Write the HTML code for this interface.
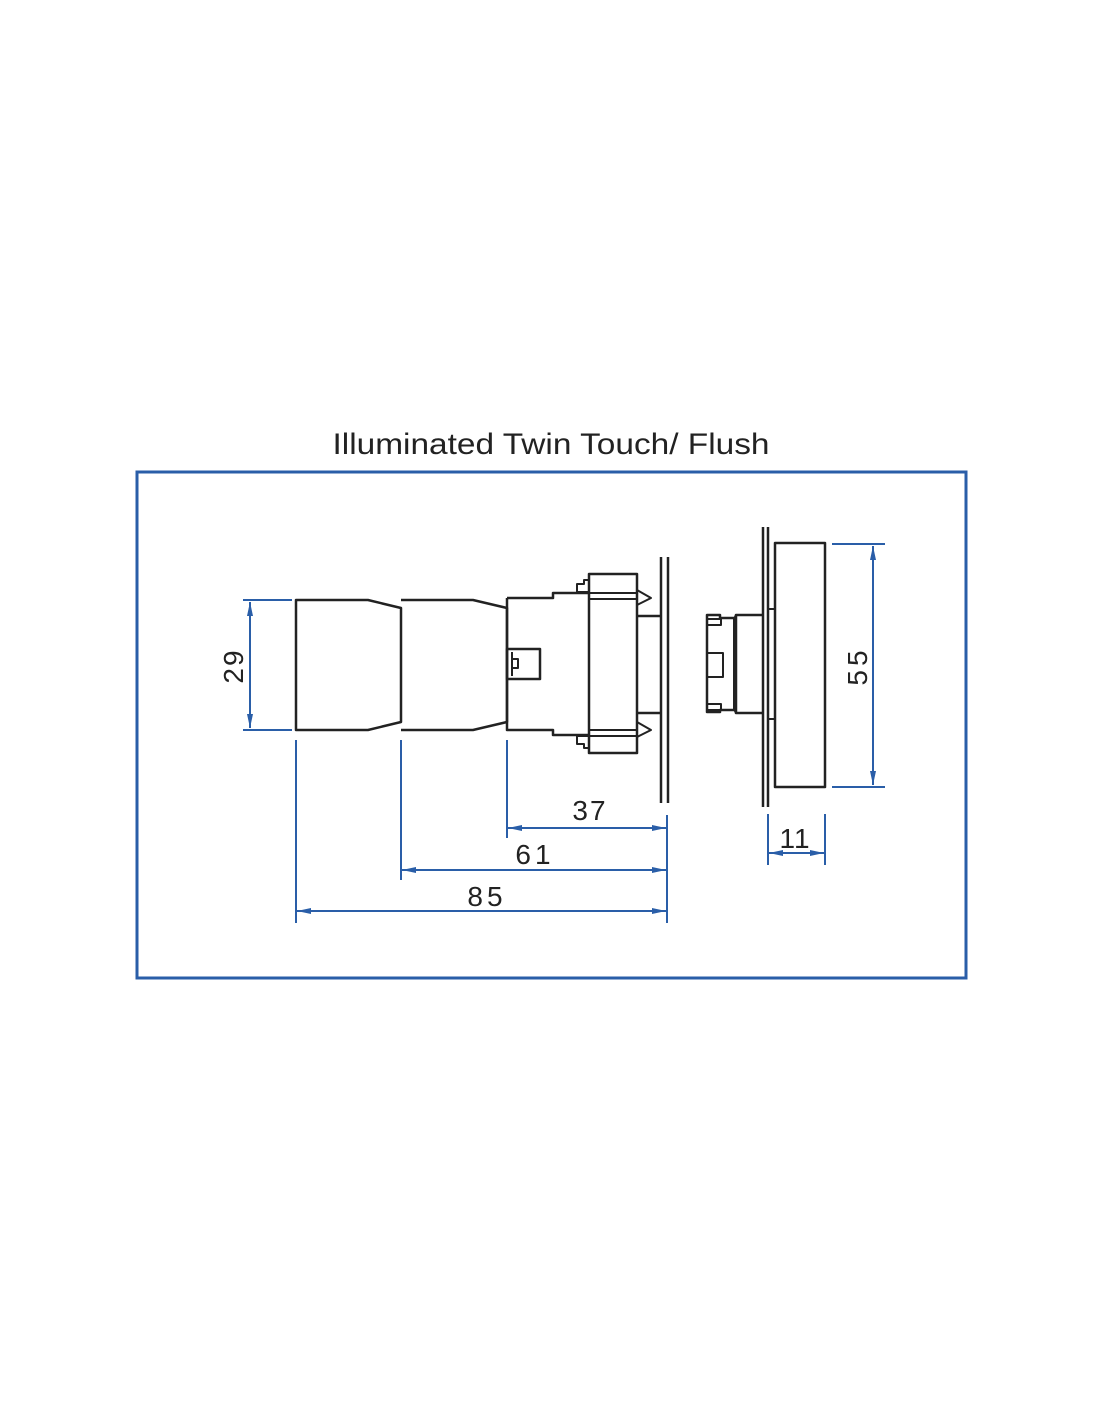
<!DOCTYPE html>
<html><head><meta charset="utf-8"><style>
html,body{margin:0;padding:0;background:#fff;}
svg{display:block;}
text{font-family:"Liberation Sans",sans-serif;}
</style></head><body>
<svg width="1100" height="1422" viewBox="0 0 1100 1422" xmlns="http://www.w3.org/2000/svg">
<defs>
<marker id="a" viewBox="0 0 14 6" refX="14" refY="3" markerWidth="14" markerHeight="6" markerUnits="userSpaceOnUse" orient="auto-start-reverse"><path d="M0,0 L14,3 L0,6 Z" fill="#2a5ea8"/></marker>
</defs>
<text x="551" y="454" font-size="30" text-anchor="middle" fill="#222" textLength="437" lengthAdjust="spacingAndGlyphs">Illuminated Twin Touch/ Flush</text>
<rect x="137" y="472" width="829" height="506" fill="none" stroke="#2a5ea8" stroke-width="3"/>

<g fill="none" stroke="#222" stroke-width="2.5" stroke-linejoin="round">
<!-- body 1 -->
<path d="M296,600 H368 L401,608 V722 L368,730 H296 Z"/>
<!-- body 2 -->
<path d="M401,600 H473 L507,608 V722 L473,730 H401"/>
<!-- body 3 -->
<path d="M507,598 H553 V593 H589 M507,598 V730 H553 V735 H589"/>
<rect x="507" y="649" width="33" height="30"/>
<path d="M512,652 V676 M512,659 H518 V668 H512" stroke-width="2"/>
<!-- box -->
<rect x="589" y="574" width="48" height="179"/>
<path d="M589,593 H637 M589,599 H637 M589,730 H637 M589,736 H637" stroke-width="2"/>
<!-- hooks -->
<path d="M589,592 H577 V584 H584 V580 H589" stroke-width="2"/>
<path d="M589,736 H577 V744 H584 V748 H589" stroke-width="2"/>
<!-- triangles -->
<path d="M637,590 L651,598 L637,605" stroke-width="2"/>
<path d="M637,722 L651,730 L637,737" stroke-width="2"/>
<!-- connectors to panel -->
<path d="M637,616 H661 M637,713 H661"/>
<!-- panel lines -->
<path d="M661,557 V803 M668,557 V803"/>

<!-- right view -->
<path d="M763,527 V807 M768,527 V807"/>
<path d="M775,543 H825 V787 H775 Z"/>
<path d="M768,609 H775 M768,719 H775" stroke-width="2"/>
<path d="M763,615 H736 V713 H763"/>
<path d="M736,615 L734,619 V709 L736,713" stroke-width="2"/>
<path d="M734,618 H720 V615 H707 V712 H720 V710 H734" />
<rect x="707" y="619" width="14" height="6" stroke-width="2"/>
<rect x="707" y="704" width="14" height="6" stroke-width="2"/>
<rect x="707" y="653" width="16" height="24" stroke-width="2"/>
</g>

<g stroke="#2a5ea8" stroke-width="2" fill="none">
<!-- 29 -->
<path d="M243,600 H292 M243,730 H292"/>
<line x1="250" y1="602" x2="250" y2="728" marker-start="url(#a)" marker-end="url(#a)"/>
<!-- 55 -->
<path d="M832,544 H885 M832,787 H885"/>
<line x1="873" y1="546" x2="873" y2="785" marker-start="url(#a)" marker-end="url(#a)"/>
<!-- 11 -->
<path d="M768,814 V865 M825,814 V865"/>
<line x1="769" y1="853" x2="824" y2="853" marker-start="url(#a)" marker-end="url(#a)"/>
<!-- bottom dims -->
<path d="M296,740 V923 M401,740 V880 M507,740 V838 M667,815 V923"/>
<line x1="508" y1="828" x2="666" y2="828" marker-start="url(#a)" marker-end="url(#a)"/>
<line x1="402" y1="870" x2="666" y2="870" marker-start="url(#a)" marker-end="url(#a)"/>
<line x1="297" y1="911" x2="666" y2="911" marker-start="url(#a)" marker-end="url(#a)"/>
</g>

<g fill="#222" font-size="28" text-anchor="middle">
<text x="590" y="820" letter-spacing="2">37</text>
<text x="535" y="864" letter-spacing="4">61</text>
<text x="487" y="906" letter-spacing="4">85</text>
<text x="795" y="848" letter-spacing="1">11</text>
<text transform="translate(243,666) rotate(-90)" letter-spacing="2">29</text>
<text transform="translate(867,666) rotate(-90)" letter-spacing="4">55</text>
</g>
</svg>
</body></html>
